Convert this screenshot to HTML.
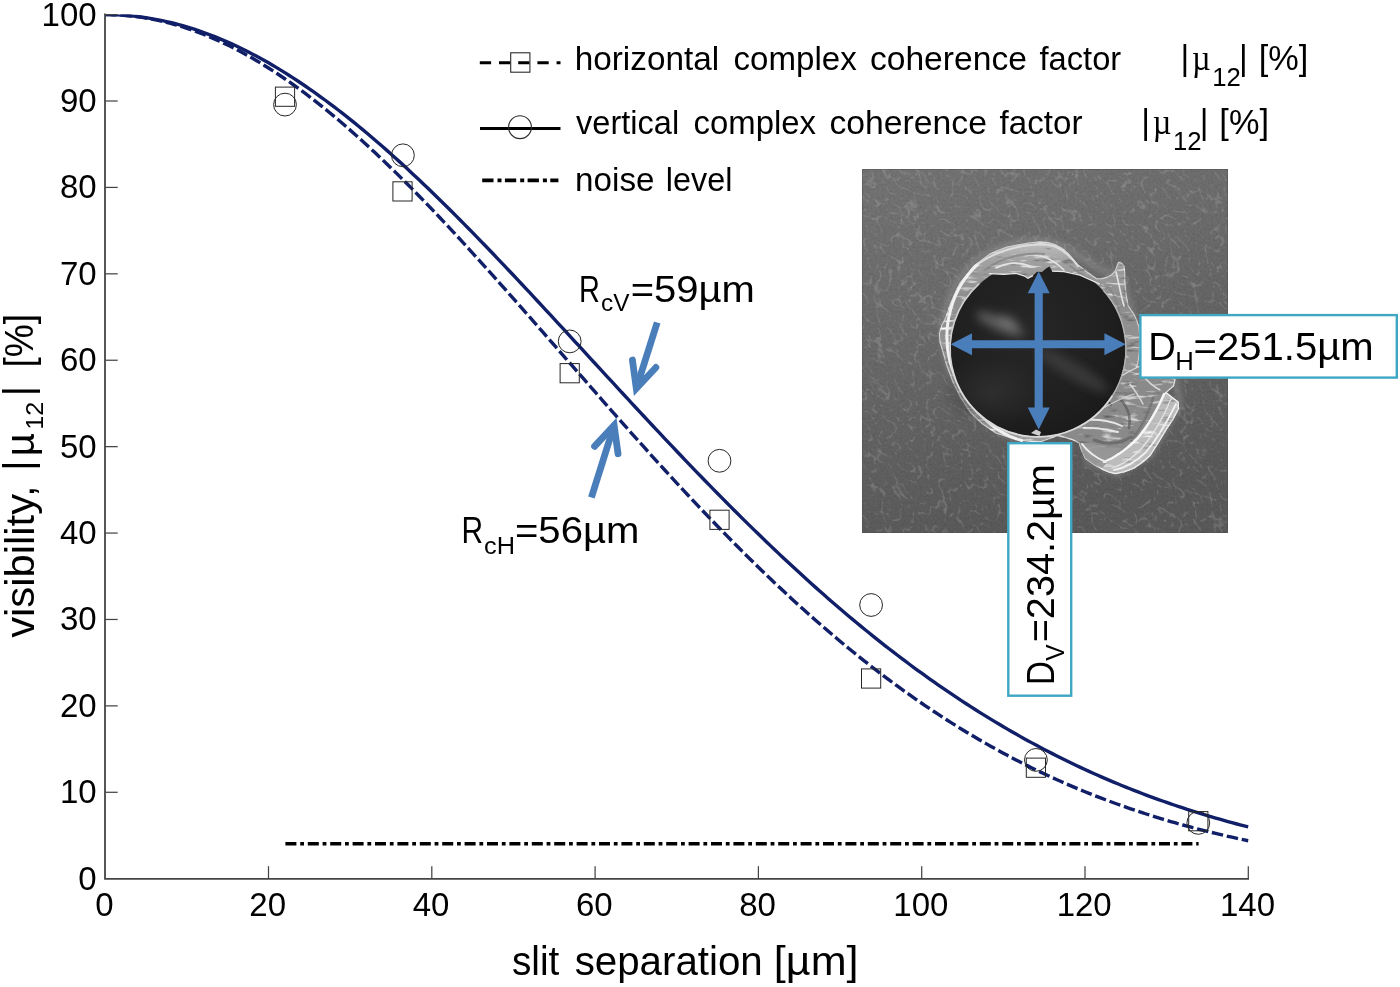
<!DOCTYPE html>
<html lang="en"><head><meta charset="utf-8">
<title>Visibility versus slit separation</title>
<style>
html,body{margin:0;padding:0;background:#fff;}
body{width:1400px;height:987px;overflow:hidden;}
svg{display:block;}
text{font-family:"Liberation Sans",sans-serif;fill:#000;}
.tk{font-size:33px;}
</style></head><body>
<svg width="1400" height="987" viewBox="0 0 1400 987">
<rect x="0" y="0" width="1400" height="987" fill="#ffffff"/>
<defs>
<clipPath id="semclip"><rect x="862" y="169" width="366" height="364"/></clipPath>
<clipPath id="holeclip"><path d="M940 460 L940 300 L962 300 L978 281 L989.5 273.4 L1004 274.2 L1016 273.2 L1024 275.6 L1028 278 L1033 275.5 L1037 271.8 L1042 272 L1046 268.5 L1049.5 266.6 L1052 271 L1056 271.8 L1064 271.4 L1072 272.6 L1080 275 L1090 279 L1100 284 L1140 300 L1140 460 Z"/></clipPath>
<linearGradient id="sembg" x1="0" y1="0" x2="0.3" y2="1"><stop offset="0" stop-color="#747474"/><stop offset="0.4" stop-color="#6c6c6c"/><stop offset="0.75" stop-color="#616161"/><stop offset="1" stop-color="#5a5a5a"/></linearGradient>
<radialGradient id="blobg"><stop offset="0" stop-color="#333" stop-opacity="0.75"/><stop offset="1" stop-color="#333" stop-opacity="0"/></radialGradient>
<radialGradient id="holeg" cx="0.45" cy="0.4" r="0.7"><stop offset="0" stop-color="#272727"/><stop offset="0.65" stop-color="#1f1f1f"/><stop offset="1" stop-color="#181818"/></radialGradient>
<linearGradient id="rimg" x1="0" y1="0" x2="0" y2="1"><stop offset="0" stop-color="#c0c0c0"/><stop offset="0.1" stop-color="#a0a0a0"/><stop offset="0.28" stop-color="#8e8e8e"/><stop offset="1" stop-color="#989898"/></linearGradient>
<filter id="grain" x="0" y="0" width="100%" height="100%" color-interpolation-filters="sRGB"><feTurbulence type="turbulence" baseFrequency="0.1 0.06" numOctaves="2" seed="8"/><feColorMatrix type="matrix" values="0 0 0 0 1  0 0 0 0 1  0 0 0 0 1  -5 0 0 0 0.7"/></filter>
<filter id="grain2" x="0" y="0" width="100%" height="100%" color-interpolation-filters="sRGB"><feTurbulence type="fractalNoise" baseFrequency="0.45" numOctaves="1" seed="11"/><feColorMatrix type="matrix" values="0 0 0 0 0  0 0 0 0 0  0 0 0 0 0  0.9 0 0 0 -0.36"/></filter>
<filter id="debtex" x="-5%" y="-5%" width="110%" height="110%" color-interpolation-filters="sRGB"><feTurbulence type="fractalNoise" baseFrequency="0.05 0.22" numOctaves="3" seed="5" result="t"/><feColorMatrix in="t" type="matrix" values="0 0 0 0 1  0 0 0 0 1  0 0 0 0 1  3 0 0 0 -1.72" result="w"/><feColorMatrix in="t" type="matrix" values="0 0 0 0 0.3  0 0 0 0 0.3  0 0 0 0 0.3  0 -2.6 0 0 0.95" result="d"/><feComposite in="w" in2="SourceGraphic" operator="in" result="wi"/><feComposite in="d" in2="SourceGraphic" operator="in" result="di"/><feMerge><feMergeNode in="SourceGraphic"/><feMergeNode in="di"/><feMergeNode in="wi"/></feMerge></filter>
<filter id="b2" x="-20%" y="-20%" width="140%" height="140%"><feGaussianBlur stdDeviation="2.4"/></filter>
<filter id="b6" x="-60%" y="-60%" width="220%" height="220%"><feGaussianBlur stdDeviation="5"/></filter>
<filter id="b1" x="-20%" y="-20%" width="140%" height="140%"><feGaussianBlur stdDeviation="0.6"/></filter>
</defs>
<g clip-path="url(#semclip)">
<rect x="862" y="169" width="366" height="364" fill="url(#sembg)"/>
<g transform="rotate(-40 1045 351)" opacity="0.27"><rect x="760" y="70" width="570" height="560" filter="url(#grain)"/></g>
<rect x="862" y="169" width="366" height="364" filter="url(#grain2)" opacity="0.22"/>
<path d="M1026 441 C990 434 958 398 946 356 C936 318 952 274 986 254 C1010 240 1046 236 1066 248 C1090 262 1104 276 1120 272 L1128 300 L1140 340 L1138 372 L1176 380 L1180 404 L1150 456 L1116 474 L1084 460" fill="none" stroke="#a8a8a8" stroke-width="7" opacity="0.3" filter="url(#b2)"/>
<path d="M939.4 333.7 L942 325 L945.7 318 L950 305 L955.1 292.9 L960 283 L966.1 275.6 L973 267 L981.9 259.9 L989 254.6 L997.6 250.4 L1007 247 L1018 244.9 L1029 243 L1040 241.8 L1048 242.6 L1055.7 244.9 L1062.5 248.6 L1068.3 253.6 L1073 259 L1077.7 264.6 L1087 272 L1096.6 278.7 L1102 278.6 L1107.6 277.1 L1112 274.5 L1115.4 270.9 L1117 266 L1118.6 262.2 L1121.5 263.2 L1124.1 266.1 L1124.8 274 L1124.8 281.9 L1126 294 L1128 305.4 L1131 310 L1134.3 314.9 L1137 321 L1139 327.4 L1140 340 L1139.4 352 L1138 362 L1135 373 L1130 384 L1100 420 L1040 442 L1026 441 L1010 437.5 L996 433 L982 423.5 L970.5 412.5 L961 398 L953 382 L947 366 L943 352 L940 342 Z" fill="url(#rimg)" stroke="#d2d2d2" stroke-width="1.1" stroke-linejoin="round" filter="url(#debtex)"/>
<g fill="none" stroke-linecap="round" filter="url(#b1)">
<path d="M1022 440.5 C992 433 962 402 950 362 C941 326 952 288 978 264" stroke="#f1f1f1" stroke-width="3"/>
<path d="M978 264 C1000 248 1034 241.5 1054 246 C1064 250 1072 258 1078 266" stroke="#dddddd" stroke-width="2"/>
<path d="M996 268 C1008 262 1020 262 1030 266 M1040 256 C1050 258 1058 264 1064 270" stroke="#e3e3e3" stroke-width="1.6"/>
<path d="M985 270 C1000 258 1024 252 1044 254 M1070 266 C1080 274 1090 280 1100 284 M1108 286 C1114 294 1118 304 1120 314" stroke="#828282" stroke-width="2" opacity="0.7"/>
<path d="M1116 272 C1119 284 1121 296 1124 306" stroke="#e4e4e4" stroke-width="1.6"/>
</g>
<path d="M1115 380 L1128 372 L1140 366 L1158 372 L1175 379.5 L1173.5 386 L1166 392.5 L1178 402 L1178.5 408.5 L1173 419 L1165.5 430.5 L1158 443 L1150 455.5 L1142 462.5 L1134 468 L1125 471.5 L1115.5 473.5 L1109 472 L1102.8 469.5 L1094 464.5 L1085.5 458.5 L1081.5 450 L1079.3 442.8 L1073 439.8 L1064 437 L1055.7 435 L1047 434.2 L1036 436.5 L1046 433 L1060 430.5 L1071.5 427 L1080 422 L1087 416 L1095.5 408 L1103 398.8 L1110 389 Z" fill="#8a8a8a" stroke="#dcdcdc" stroke-width="1.3" stroke-linejoin="round" filter="url(#debtex)"/>
<path d="M1165.6 392.6 L1178 402 L1178.5 408.5 L1173 419 L1165.5 430.5 L1158 443 L1150 455.5 L1142 462.5 L1134 468 L1125 471.5 L1115.5 473.5 L1109 472 L1102.8 469.5 L1097 464 L1108 460 L1124 450 L1138 437 L1149 422 L1158 407 Z" fill="#bcbcbc" stroke="#efefef" stroke-width="1.2" stroke-linejoin="round" filter="url(#debtex)"/>
<path d="M1079.3 442.8 L1081.5 450 L1085.5 458.5 L1094 464.5 L1102 468 L1112 458 L1122 448 L1104 447 L1090 443 Z" fill="#979797" opacity="0.9"/>
<g fill="none" stroke-linecap="round" stroke-linejoin="round" filter="url(#b1)">
<path d="M1121 400 C1128 408 1131 418 1129 428" stroke="#5c5c5c" stroke-width="2.6" opacity="0.7"/>
<path d="M1094 440 C1106 445 1120 444 1131 437" stroke="#606060" stroke-width="3" opacity="0.7"/>
<path d="M1153 398 C1149 414 1141 428 1131 441" stroke="#6c6c6c" stroke-width="2.6" opacity="0.65"/>
<path d="M1106 404 l3 -2 l2 3" stroke="#3a3a3a" stroke-width="1.6"/>
<path d="M1164 394 C1158 408 1150 424 1138 438 C1128 449 1114 458 1104 462" stroke="#f6f6f6" stroke-width="2.3"/>
<path d="M1171 399 C1164 416 1154 434 1142 448 C1133 458 1122 465 1112 468" stroke="#e4e4e4" stroke-width="1.3"/>
<path d="M1176 404 C1168 420 1158 438 1146 452 C1136 462 1124 468 1114 470" stroke="#f0f0f0" stroke-width="1.8"/>
<path d="M1088 420 C1098 419 1112 421 1122 426 M1084 428 C1096 427 1108 430 1118 432" stroke="#e6e6e6" stroke-width="1.9"/>
<path d="M1082 444 C1088 452 1096 458 1106 462" stroke="#ededed" stroke-width="2"/>
<path d="M1130 384 C1136 392 1140 398 1143 404 M1140 372 C1146 380 1152 386 1160 390" stroke="#d8d8d8" stroke-width="1.4"/>
<path d="M1100 410 C1110 404 1122 398 1134 394" stroke="#cfcfcf" stroke-width="1.3"/>
</g>
<g clip-path="url(#holeclip)">
<circle cx="1038" cy="349" r="87.5" fill="url(#holeg)"/>
<ellipse cx="992" cy="392" rx="52" ry="36" fill="url(#blobg)"/>
<g filter="url(#b6)">
<ellipse cx="1000" cy="324" rx="26" ry="6.5" fill="#6a6a6a" opacity="0.8" transform="rotate(24 1000 324)"/>
<ellipse cx="1008" cy="322" rx="11" ry="5.5" fill="#8a8a8a" opacity="0.55" transform="rotate(25 1008 322)"/>
<ellipse cx="1072" cy="370" rx="42" ry="8" fill="#444444" opacity="0.7" transform="rotate(30 1072 370)"/>
</g>
</g>
<g fill="none" filter="url(#b1)">
<path d="M952.0 367.3 A87.9 87.9 0 0 0 1112.5 395.6" stroke="#dadada" stroke-width="1.8"/>
<path d="M1112.5 395.6 A87.9 87.9 0 0 0 1103.3 290.2" stroke="#b4b4b4" stroke-width="1.4"/>
<path d="M952.0 367.3 A87.9 87.9 0 0 1 979.2 283.7" stroke="#d0d0d0" stroke-width="1.6"/>
<path d="M989 273.6 L1004 274.4 L1016 273.4 L1024 275.8 L1028 278.2 L1033 275.7 M1052 271.2 L1064 271.6 L1080 275.2 L1100 284.2" stroke="#e6e6e6" stroke-width="1.3"/>
</g>
<path d="M1031 433 l5 -3.6 l5 2.6 l-1.5 4 z" fill="#cfcfcf"/>
<rect x="862.4" y="169.4" width="365.2" height="363.2" fill="none" stroke="#4e4e4e" stroke-width="0.8" opacity="0.6"/>
</g>
<g fill="#4a7ebb" stroke="none">
<path d="M950.6 344.2 L972 333.2 L972 340.2 L1104.4 340.2 L1104.4 333.2 L1125.8 344.2 L1104.4 355.2 L1104.4 348.2 L972 348.2 L972 355.2 Z"/>
<path d="M1038.7 271.5 L1049.7 293.3 L1042.8 293.3 L1042.8 407.6 L1049.7 407.6 L1038.7 429.4 L1027.7 407.6 L1034.6 407.6 L1034.6 293.3 L1027.7 293.3 Z"/>
</g>
<defs><clipPath id="axclip"><rect x="105.2" y="14.6" width="1143.5" height="864.1"/></clipPath></defs>
<g clip-path="url(#axclip)">
<path d="M105.2 14.6 L109.28 14.63 L113.37 14.74 L117.45 14.91 L121.53 15.15 L125.61 15.46 L129.69 15.84 L133.78 16.29 L137.86 16.8 L141.94 17.39 L146.03 18.04 L150.11 18.76 L154.19 19.55 L158.27 20.4 L162.35 21.32 L166.44 22.31 L170.52 23.37 L174.6 24.5 L178.69 25.69 L182.77 26.94 L186.85 28.27 L190.93 29.66 L195.01 31.11 L199.1 32.63 L203.18 34.21 L207.26 35.86 L211.34 37.57 L215.43 39.35 L219.51 41.19 L223.59 43.09 L227.68 45.05 L231.76 47.07 L235.84 49.16 L239.92 51.31 L244 53.51 L248.09 55.78 L252.17 58.1 L256.25 60.49 L260.33 62.93 L264.42 65.43 L268.5 67.99 L272.58 70.6 L276.66 73.27 L280.75 75.99 L284.83 78.77 L288.91 81.61 L293 84.49 L297.08 87.43 L301.16 90.42 L305.24 93.46 L309.32 96.56 L313.41 99.7 L317.49 102.89 L321.57 106.13 L325.65 109.42 L329.74 112.75 L333.82 116.13 L337.9 119.56 L341.98 123.03 L346.07 126.55 L350.15 130.11 L354.23 133.71 L358.31 137.35 L362.4 141.04 L366.48 144.76 L370.56 148.53 L374.64 152.33 L378.73 156.17 L382.81 160.05 L386.89 163.96 L390.97 167.91 L395.06 171.89 L399.14 175.91 L403.22 179.96 L407.3 184.04 L411.39 188.16 L415.47 192.3 L419.55 196.47 L423.63 200.68 L427.72 204.91 L431.8 209.16 L435.88 213.45 L439.96 217.75 L444.05 222.09 L448.13 226.44 L452.21 230.82 L456.29 235.22 L460.38 239.65 L464.46 244.09 L468.54 248.55 L472.62 253.03 L476.71 257.53 L480.79 262.04 L484.87 266.57 L488.95 271.12 L493.04 275.68 L497.12 280.25 L501.2 284.84 L505.28 289.43 L509.37 294.04 L513.45 298.66 L517.53 303.29 L521.62 307.93 L525.7 312.57 L529.78 317.23 L533.86 321.88 L537.94 326.55 L542.03 331.22 L546.11 335.89 L550.19 340.56 L554.27 345.24 L558.36 349.92 L562.44 354.6 L566.52 359.28 L570.61 363.95 L574.69 368.63 L578.77 373.31 L582.85 377.98 L586.93 382.65 L591.02 387.31 L595.1 391.97 L599.18 396.62 L603.26 401.27 L607.35 405.91 L611.43 410.54 L615.51 415.17 L619.6 419.78 L623.68 424.38 L627.76 428.98 L631.84 433.56 L635.92 438.13 L640.01 442.69 L644.09 447.24 L648.17 451.77 L652.25 456.29 L656.34 460.8 L660.42 465.29 L664.5 469.76 L668.59 474.22 L672.67 478.66 L676.75 483.09 L680.83 487.49 L684.91 491.88 L689 496.25 L693.08 500.6 L697.16 504.93 L701.25 509.24 L705.33 513.53 L709.41 517.8 L713.49 522.05 L717.57 526.27 L721.66 530.48 L725.74 534.66 L729.82 538.81 L733.9 542.95 L737.99 547.06 L742.07 551.14 L746.15 555.2 L750.24 559.24 L754.32 563.25 L758.4 567.24 L762.48 571.2 L766.56 575.13 L770.65 579.04 L774.73 582.92 L778.81 586.77 L782.89 590.6 L786.98 594.4 L791.06 598.17 L795.14 601.91 L799.23 605.63 L803.31 609.31 L807.39 612.97 L811.47 616.6 L815.55 620.2 L819.64 623.77 L823.72 627.31 L827.8 630.83 L831.88 634.31 L835.97 637.76 L840.05 641.18 L844.13 644.58 L848.21 647.94 L852.3 651.27 L856.38 654.58 L860.46 657.85 L864.54 661.09 L868.63 664.3 L872.71 667.48 L876.79 670.63 L880.88 673.75 L884.96 676.84 L889.04 679.9 L893.12 682.93 L897.2 685.92 L901.29 688.89 L905.37 691.83 L909.45 694.73 L913.53 697.6 L917.62 700.45 L921.7 703.26 L925.78 706.04 L929.87 708.79 L933.95 711.51 L938.03 714.2 L942.11 716.86 L946.19 719.49 L950.28 722.09 L954.36 724.66 L958.44 727.2 L962.52 729.71 L966.61 732.19 L970.69 734.64 L974.77 737.06 L978.85 739.45 L982.94 741.81 L987.02 744.14 L991.1 746.44 L995.18 748.72 L999.27 750.96 L1003.35 753.18 L1007.43 755.37 L1011.51 757.52 L1015.6 759.65 L1019.68 761.76 L1023.76 763.83 L1027.84 765.88 L1031.93 767.9 L1036.01 769.89 L1040.09 771.85 L1044.17 773.79 L1048.26 775.7 L1052.34 777.58 L1056.42 779.44 L1060.5 781.27 L1064.59 783.07 L1068.67 784.85 L1072.75 786.61 L1076.83 788.33 L1080.92 790.04 L1085 791.71 L1089.08 793.36 L1093.16 794.99 L1097.25 796.59 L1101.33 798.17 L1105.41 799.73 L1109.49 801.26 L1113.58 802.76 L1117.66 804.25 L1121.74 805.71 L1125.82 807.15 L1129.91 808.56 L1133.99 809.95 L1138.07 811.32 L1142.15 812.67 L1146.24 814 L1150.32 815.3 L1154.4 816.58 L1158.48 817.85 L1162.57 819.09 L1166.65 820.31 L1170.73 821.51 L1174.81 822.69 L1178.9 823.85 L1182.98 824.99 L1187.06 826.11 L1191.14 827.21 L1195.23 828.29 L1199.31 829.36 L1203.39 830.4 L1207.47 831.43 L1211.56 832.44 L1215.64 833.43 L1219.72 834.4 L1223.8 835.36 L1227.89 836.29 L1231.97 837.21 L1236.05 838.12 L1240.13 839.01 L1244.22 839.88 L1248.3 840.73" fill="none" stroke="#101f68" stroke-width="3.4" stroke-dasharray="11.5 3.8" stroke-linejoin="round"/>
<path d="M105.2 14.6 L109.28 14.63 L113.37 14.72 L117.45 14.88 L121.53 15.1 L125.61 15.38 L129.69 15.72 L133.78 16.12 L137.86 16.58 L141.94 17.11 L146.03 17.7 L150.11 18.35 L154.19 19.06 L158.27 19.83 L162.35 20.66 L166.44 21.55 L170.52 22.51 L174.6 23.52 L178.69 24.6 L182.77 25.73 L186.85 26.92 L190.93 28.18 L195.01 29.49 L199.1 30.86 L203.18 32.29 L207.26 33.78 L211.34 35.32 L215.43 36.93 L219.51 38.59 L223.59 40.31 L227.68 42.08 L231.76 43.91 L235.84 45.8 L239.92 47.74 L244 49.74 L248.09 51.79 L252.17 53.89 L256.25 56.05 L260.33 58.26 L264.42 60.53 L268.5 62.85 L272.58 65.22 L276.66 67.64 L280.75 70.11 L284.83 72.63 L288.91 75.2 L293 77.83 L297.08 80.5 L301.16 83.21 L305.24 85.98 L309.32 88.79 L313.41 91.65 L317.49 94.56 L321.57 97.51 L325.65 100.5 L329.74 103.54 L333.82 106.63 L337.9 109.76 L341.98 112.92 L346.07 116.13 L350.15 119.39 L354.23 122.68 L358.31 126.01 L362.4 129.38 L366.48 132.79 L370.56 136.24 L374.64 139.72 L378.73 143.24 L382.81 146.8 L386.89 150.39 L390.97 154.02 L395.06 157.68 L399.14 161.37 L403.22 165.1 L407.3 168.85 L411.39 172.64 L415.47 176.46 L419.55 180.31 L423.63 184.18 L427.72 188.09 L431.8 192.02 L435.88 195.98 L439.96 199.96 L444.05 203.97 L448.13 208.01 L452.21 212.06 L456.29 216.14 L460.38 220.25 L464.46 224.37 L468.54 228.52 L472.62 232.68 L476.71 236.87 L480.79 241.07 L484.87 245.3 L488.95 249.53 L493.04 253.79 L497.12 258.06 L501.2 262.35 L505.28 266.65 L509.37 270.96 L513.45 275.29 L517.53 279.63 L521.62 283.98 L525.7 288.34 L529.78 292.71 L533.86 297.1 L537.94 301.49 L542.03 305.88 L546.11 310.29 L550.19 314.7 L554.27 319.12 L558.36 323.54 L562.44 327.97 L566.52 332.4 L570.61 336.84 L574.69 341.28 L578.77 345.71 L582.85 350.16 L586.93 354.6 L591.02 359.04 L595.1 363.48 L599.18 367.92 L603.26 372.36 L607.35 376.79 L611.43 381.22 L615.51 385.65 L619.6 390.08 L623.68 394.49 L627.76 398.91 L631.84 403.32 L635.92 407.72 L640.01 412.11 L644.09 416.5 L648.17 420.87 L652.25 425.24 L656.34 429.6 L660.42 433.95 L664.5 438.29 L668.59 442.62 L672.67 446.93 L676.75 451.24 L680.83 455.53 L684.91 459.81 L689 464.07 L693.08 468.32 L697.16 472.56 L701.25 476.78 L705.33 480.99 L709.41 485.18 L713.49 489.35 L717.57 493.51 L721.66 497.65 L725.74 501.78 L729.82 505.88 L733.9 509.97 L737.99 514.04 L742.07 518.09 L746.15 522.12 L750.24 526.13 L754.32 530.12 L758.4 534.09 L762.48 538.04 L766.56 541.97 L770.65 545.88 L774.73 549.76 L778.81 553.62 L782.89 557.46 L786.98 561.28 L791.06 565.08 L795.14 568.85 L799.23 572.6 L803.31 576.33 L807.39 580.03 L811.47 583.7 L815.55 587.36 L819.64 590.99 L823.72 594.59 L827.8 598.17 L831.88 601.72 L835.97 605.25 L840.05 608.75 L844.13 612.23 L848.21 615.68 L852.3 619.1 L856.38 622.5 L860.46 625.88 L864.54 629.22 L868.63 632.54 L872.71 635.83 L876.79 639.1 L880.88 642.34 L884.96 645.55 L889.04 648.73 L893.12 651.89 L897.2 655.02 L901.29 658.12 L905.37 661.2 L909.45 664.25 L913.53 667.27 L917.62 670.26 L921.7 673.23 L925.78 676.16 L929.87 679.07 L933.95 681.96 L938.03 684.81 L942.11 687.64 L946.19 690.44 L950.28 693.21 L954.36 695.95 L958.44 698.67 L962.52 701.36 L966.61 704.02 L970.69 706.65 L974.77 709.26 L978.85 711.83 L982.94 714.39 L987.02 716.91 L991.1 719.4 L995.18 721.87 L999.27 724.32 L1003.35 726.73 L1007.43 729.12 L1011.51 731.48 L1015.6 733.81 L1019.68 736.12 L1023.76 738.4 L1027.84 740.65 L1031.93 742.88 L1036.01 745.08 L1040.09 747.26 L1044.17 749.41 L1048.26 751.53 L1052.34 753.63 L1056.42 755.7 L1060.5 757.74 L1064.59 759.76 L1068.67 761.76 L1072.75 763.73 L1076.83 765.67 L1080.92 767.59 L1085 769.49 L1089.08 771.36 L1093.16 773.2 L1097.25 775.02 L1101.33 776.82 L1105.41 778.59 L1109.49 780.34 L1113.58 782.07 L1117.66 783.77 L1121.74 785.45 L1125.82 787.11 L1129.91 788.74 L1133.99 790.35 L1138.07 791.94 L1142.15 793.5 L1146.24 795.05 L1150.32 796.57 L1154.4 798.07 L1158.48 799.54 L1162.57 801 L1166.65 802.43 L1170.73 803.85 L1174.81 805.24 L1178.9 806.61 L1182.98 807.96 L1187.06 809.29 L1191.14 810.61 L1195.23 811.9 L1199.31 813.17 L1203.39 814.42 L1207.47 815.65 L1211.56 816.86 L1215.64 818.06 L1219.72 819.23 L1223.8 820.39 L1227.89 821.53 L1231.97 822.65 L1236.05 823.75 L1240.13 824.84 L1244.22 825.9 L1248.3 826.95" fill="none" stroke="#101f68" stroke-width="3.4" stroke-linejoin="round"/>
</g>
<path d="M285.4 843.7 H1198.6" fill="none" stroke="#000" stroke-width="3.6" stroke-dasharray="11 3.8 3.8 3.8"/>
<g stroke="#454545" stroke-width="1.25" fill="none" stroke-linecap="butt">
<path d="M105 13.4 V878.8 H1249" stroke-width="1.8"/>
<path d="M268.5 878.7 v-12.5"/>
<path d="M431.8 878.7 v-12.5"/>
<path d="M595.1 878.7 v-12.5"/>
<path d="M758.4 878.7 v-12.5"/>
<path d="M921.7 878.7 v-12.5"/>
<path d="M1085 878.7 v-12.5"/>
<path d="M1248.3 878.7 v-12.5"/>
<path d="M105.2 792.29 h12.5"/>
<path d="M105.2 705.88 h12.5"/>
<path d="M105.2 619.47 h12.5"/>
<path d="M105.2 533.06 h12.5"/>
<path d="M105.2 446.65 h12.5"/>
<path d="M105.2 360.24 h12.5"/>
<path d="M105.2 273.83 h12.5"/>
<path d="M105.2 187.42 h12.5"/>
<path d="M105.2 101.01 h12.5"/>
<path d="M105.2 14.6 h12.5"/>
</g>
<g class="tk">
<text x="104.4" y="916.4" text-anchor="middle">0</text>
<text x="267.7" y="916.4" text-anchor="middle">20</text>
<text x="431" y="916.4" text-anchor="middle">40</text>
<text x="594.3" y="916.4" text-anchor="middle">60</text>
<text x="757.6" y="916.4" text-anchor="middle">80</text>
<text x="920.9" y="916.4" text-anchor="middle">100</text>
<text x="1084.2" y="916.4" text-anchor="middle">120</text>
<text x="1247.5" y="916.4" text-anchor="middle">140</text>
<text x="96.6" y="889.7" text-anchor="end">0</text>
<text x="96.6" y="803.29" text-anchor="end">10</text>
<text x="96.6" y="716.88" text-anchor="end">20</text>
<text x="96.6" y="630.47" text-anchor="end">30</text>
<text x="96.6" y="544.06" text-anchor="end">40</text>
<text x="96.6" y="457.65" text-anchor="end">50</text>
<text x="96.6" y="371.24" text-anchor="end">60</text>
<text x="96.6" y="284.83" text-anchor="end">70</text>
<text x="96.6" y="198.42" text-anchor="end">80</text>
<text x="96.6" y="112.01" text-anchor="end">90</text>
<text x="96.6" y="25.6" text-anchor="end">100</text>
</g>
<g fill="none" stroke="#262626" stroke-width="1">
<rect x="275.4" y="87.1" width="19.2" height="19.2"/>
<rect x="392.9" y="181.8" width="19.2" height="19.2"/>
<rect x="560.1" y="363.6" width="19.2" height="19.2"/>
<rect x="709.9" y="510.2" width="19.2" height="19.2"/>
<rect x="861.5" y="668.9" width="19.2" height="19.2"/>
<rect x="1026.3" y="758.1" width="19.2" height="19.2"/>
<rect x="1188.7" y="811.6" width="19.2" height="19.2"/>
<circle cx="285" cy="104.6" r="11.4"/>
<circle cx="402.9" cy="155.3" r="11.4"/>
<circle cx="569.7" cy="341.4" r="11.4"/>
<circle cx="719.5" cy="460.8" r="11.4"/>
<circle cx="871.1" cy="605" r="11.4"/>
<circle cx="1035.9" cy="759.9" r="11.4"/>
<circle cx="1198.3" cy="822.9" r="11.4"/>
</g>
<path d="M479.8 62.7 H560.5" fill="none" stroke="#000" stroke-width="3" stroke-dasharray="11.3 7.9"/>
<rect x="510.7" y="52.8" width="19.2" height="19.4" fill="none" stroke="#2b2b2b" stroke-width="1.1"/>
<path d="M480 128.5 H560.5" fill="none" stroke="#000" stroke-width="3.1"/>
<circle cx="520" cy="127.2" r="11.4" fill="none" stroke="#2b2b2b" stroke-width="1.1"/>
<path d="M482.2 180.3 H558.4" fill="none" stroke="#000" stroke-width="3.8" stroke-dasharray="11.3 4 4 3.4"/>
<text transform="translate(574.72 69.6) scale(0.9915 1)" style='font-family:"Liberation Sans",sans-serif;font-size:33.6px'>horizontal</text>
<text transform="translate(733.52 69.6) scale(0.9847 1)" style='font-family:"Liberation Sans",sans-serif;font-size:33.6px'>complex</text>
<text transform="translate(869.9 69.6) scale(1.0006 1)" style='font-family:"Liberation Sans",sans-serif;font-size:33.6px'>coherence</text>
<text transform="translate(1039.5 69.6) scale(0.9726 1)" style='font-family:"Liberation Sans",sans-serif;font-size:33.6px'>factor</text>
<text transform="translate(576.1 133.5) scale(0.9683 1)" style='font-family:"Liberation Sans",sans-serif;font-size:33.6px'>vertical</text>
<text transform="translate(693.62 133.5) scale(0.979 1)" style='font-family:"Liberation Sans",sans-serif;font-size:33.6px'>complex</text>
<text transform="translate(829.4 133.5) scale(1.0045 1)" style='font-family:"Liberation Sans",sans-serif;font-size:33.6px'>coherence</text>
<text transform="translate(999.6 133.5) scale(0.9857 1)" style='font-family:"Liberation Sans",sans-serif;font-size:33.6px'>factor</text>
<text transform="translate(575.12 190.7) scale(0.9883 1)" style='font-family:"Liberation Sans",sans-serif;font-size:33.6px'>noise</text>
<text transform="translate(665.87 190.7) scale(0.9631 1)" style='font-family:"Liberation Sans",sans-serif;font-size:33.6px'>level</text>
<text transform="translate(1180.5 69.8) scale(1 1.06)" style='font-family:"Liberation Sans",sans-serif;font-size:33.6px'>|</text>
<text transform="translate(1191.95 69.8) scale(0.95 1.04)" style='font-family:"Liberation Serif",serif;font-size:34px'>µ</text>
<text transform="translate(1212.32 86.4) scale(0.9885 1)" style='font-family:"Liberation Sans",sans-serif;font-size:26px'>12</text>
<text transform="translate(1239.05 69.8) scale(1 1.06)" style='font-family:"Liberation Sans",sans-serif;font-size:33.6px'>|</text>
<text transform="translate(1258.65 69.8) scale(1.0227 1.05)" style='font-family:"Liberation Sans",sans-serif;font-size:33.6px'>[%]</text>
<text transform="translate(1141.2 133.8) scale(1 1.06)" style='font-family:"Liberation Sans",sans-serif;font-size:33.6px'>|</text>
<text transform="translate(1152.65 133.8) scale(0.95 1.04)" style='font-family:"Liberation Serif",serif;font-size:34px'>µ</text>
<text transform="translate(1173.02 150.4) scale(0.9885 1)" style='font-family:"Liberation Sans",sans-serif;font-size:26px'>12</text>
<text transform="translate(1199.75 133.8) scale(1 1.06)" style='font-family:"Liberation Sans",sans-serif;font-size:33.6px'>|</text>
<text transform="translate(1219.35 133.8) scale(1.0227 1.05)" style='font-family:"Liberation Sans",sans-serif;font-size:33.6px'>[%]</text>
<text transform="translate(579.05 302) scale(0.7818 1)" style='font-family:"Liberation Sans",sans-serif;font-size:37px'>R</text>
<text transform="translate(601.1 311.4) scale(0.9964 1)" style='font-family:"Liberation Sans",sans-serif;font-size:24.5px'>cV</text>
<text transform="translate(630.74 302) scale(1.0811 1)" style='font-family:"Liberation Sans",sans-serif;font-size:37px'>=59µm</text>
<text transform="translate(461.47 543) scale(0.8091 1)" style='font-family:"Liberation Sans",sans-serif;font-size:37px'>R</text>
<text transform="translate(483.97 553.6) scale(1.0333 1)" style='font-family:"Liberation Sans",sans-serif;font-size:24.5px'>cH</text>
<text transform="translate(514.93 543) scale(1.0838 1)" style='font-family:"Liberation Sans",sans-serif;font-size:37px'>=56µm</text>
<g fill="none" stroke="#4a7ebb" stroke-width="6.8" stroke-linecap="round" stroke-linejoin="miter"><path d="M657.2 322.5 L636.61 387.59" stroke-linecap="butt"/><path d="M655.88 367.47 L636.3 388.54 L632.41 360.04"/></g>
<g fill="none" stroke="#4a7ebb" stroke-width="6.8" stroke-linecap="round" stroke-linejoin="miter"><path d="M591.4 497.4 L613.8 426.22" stroke-linecap="butt"/><path d="M594.56 446.36 L614.1 425.26 L618.04 453.75"/></g>
<rect x="1140.4" y="315.1" width="256.4" height="62.5" fill="#fff" stroke="#3fa7c4" stroke-width="2.4"/>
<rect x="1008.3" y="443.2" width="62.9" height="252.5" fill="#fff" stroke="#3fa7c4" stroke-width="2.4"/>
<text transform="translate(1148.23 360.2) scale(0.9913 1)" style='font-family:"Liberation Sans",sans-serif;font-size:38.5px'>D</text>
<text transform="translate(1175.24 369.8) scale(1.0286 1)" style='font-family:"Liberation Sans",sans-serif;font-size:25px'>H</text>
<text transform="translate(1193.52 360.2) scale(1.0408 1)" style='font-family:"Liberation Sans",sans-serif;font-size:38.5px'>=251.5µm</text>
<text transform="translate(1054.2 700) rotate(-90) translate(15.02 0) scale(0.8609 1)" style='font-family:"Liberation Sans",sans-serif;font-size:38.5px'>D</text>
<text transform="translate(1064.4 700) rotate(-90) translate(39.2 0) scale(0.9765 1)" style='font-family:"Liberation Sans",sans-serif;font-size:25px'>V</text>
<text transform="translate(1054.2 700) rotate(-90) translate(57.74 0) scale(1.029 1)" style='font-family:"Liberation Sans",sans-serif;font-size:38.5px'>=234.2µm</text>
<text transform="translate(511.93 974.8) scale(0.9688 1)" style='font-family:"Liberation Sans",sans-serif;font-size:40px'>slit</text>
<text transform="translate(574.69 974.8) scale(1.0071 1)" style='font-family:"Liberation Sans",sans-serif;font-size:40px'>separation</text>
<text transform="translate(773.87 974.8) scale(1.0767 1)" style='font-family:"Liberation Sans",sans-serif;font-size:40px'>[µm]</text>
<text transform="translate(33.8 640) rotate(-90) translate(2.2 0) scale(1.0441 1)" style='font-family:"Liberation Sans",sans-serif;font-size:40px'>visibility,</text>
<text transform="translate(32 640) rotate(-90) translate(169.3 0) scale(1 1)" style='font-family:"Liberation Sans",sans-serif;font-size:40px'>|</text>
<text transform="translate(33.8 640) rotate(-90) translate(183.79 0) scale(1.005 1)" style='font-family:"Liberation Sans",sans-serif;font-size:40px'>µ</text>
<text transform="translate(42.7 640) rotate(-90) translate(210.25 0) scale(1.025 1)" style='font-family:"Liberation Sans",sans-serif;font-size:24.5px'>12</text>
<text transform="translate(32 640) rotate(-90) translate(243.8 0) scale(1 1)" style='font-family:"Liberation Sans",sans-serif;font-size:40px'>|</text>
<text transform="translate(32.8 640) rotate(-90) translate(272.41 0) scale(0.9308 1)" style='font-family:"Liberation Sans",sans-serif;font-size:40px'>[%]</text>
</svg>
</body></html>
